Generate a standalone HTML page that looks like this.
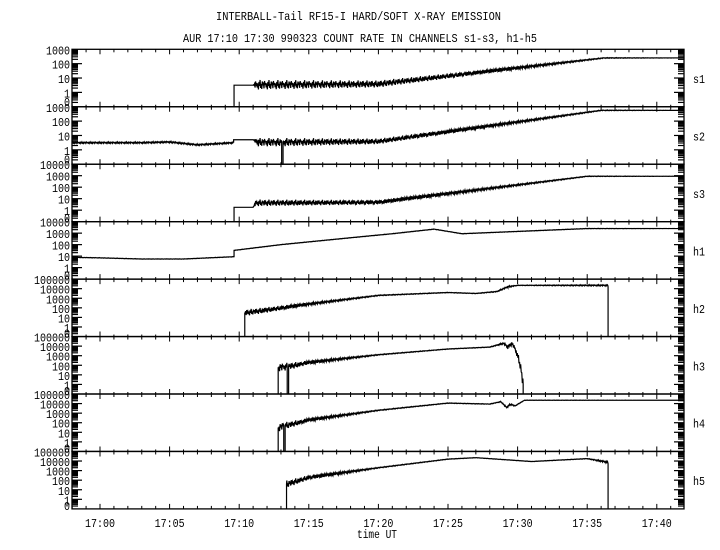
<!DOCTYPE html>
<html><head><meta charset="utf-8"><style>
html,body{margin:0;padding:0;background:#fff;}
svg{display:block;}
text{font-family:"Liberation Mono",monospace;fill:#000;}
</style></head><body>
<svg id="chart" width="720" height="550" viewBox="0 0 720 550" xmlns="http://www.w3.org/2000/svg">
<rect width="720" height="550" fill="#fff"/>
<text x="216" y="20" font-size="12" textLength="285" lengthAdjust="spacingAndGlyphs">INTERBALL-Tail RF15-I HARD/SOFT X-RAY EMISSION</text>
<text x="183" y="42" font-size="12" textLength="354" lengthAdjust="spacingAndGlyphs">AUR 17:10 17:30 990323  COUNT RATE IN CHANNELS s1-s3, h1-h5</text>
<text x="357" y="538" font-size="12" textLength="40" lengthAdjust="spacingAndGlyphs">time UT</text>
<g id="plot"></g>
</svg>
<script>
// time in minutes after 17:00
const xTickLabels=["17:00","17:05","17:10","17:15","17:20","17:25","17:30","17:35","17:40"];
const xTickTimes=[0,5,10,15,20,25,30,35,40];
const panelNames=["s1","s2","s3","h1","h2","h3","h4","h5"];
const panelTop=[3,3,4,4,5,5,5,5];
const s1T=[-2.1,9.63,9.63,11,11.2,20,36.2,42.1];
const s1V=[-1.3,-1.3,0.5,0.5,0.55,0.6,2.4,2.4];
const s1N=[0,0,0,0,0.35,0.25,0.03,0];
const s2T=[-2.1,3,5,7,9.6,9.6,11,11.3,13.05,13.05,13.15,13.15,20,36,42.1];
const s2V=[0.5,0.5,0.55,0.35,0.5,0.7,0.7,0.55,0.55,-1.3,-1.3,0.55,0.6,2.75,2.75];
const s2N=[0.06,0.06,0.06,0.06,0.06,0,0,0.3,0.3,0,0,0.3,0.2,0.03,0];
const s3T=[-2.1,9.63,9.63,11,11.2,20,35,42.1];
const s3V=[-1.3,-1.3,0.25,0.25,0.65,0.7,2.95,2.95];
const s3N=[0,0,0,0,0.3,0.2,0.03,0];
const h1T=[-2.1,0,3,6,9.63,9.63,13,18,21,24,26,28,30,35,42.1];
const h1V=[0.9,0.85,0.75,0.75,0.95,1.5,2.0,2.6,2.95,3.35,2.95,3.05,3.15,3.4,3.4];
const h1N=[0.02,0.02,0.02,0.02,0.02,0.02,0.02,0.02,0.02,0.02,0.02,0.02,0.02,0.02,0];
const h2T=[-2.1,10.4,10.4,12,15,20,25,27,28.5,29.3,30,36.4,36.5,36.5,42.1];
const h2V=[-1.3,-1.3,1.5,1.8,2.4,3.3,3.6,3.5,3.7,4.2,4.35,4.35,4.3,-1.3,-1.3];
const h2N=[0,0,0.35,0.3,0.15,0.05,0.03,0.03,0.05,0.1,0.03,0.08,0.08,0,0];
const h3T=[-2.1,12.8,12.8,13.45,13.45,13.55,13.55,15,20,25,28,29,29.3,29.6,29.9,30.2,30.4,30.4,42.1];
const h3V=[-1.3,-1.3,1.8,1.9,-1.3,-1.3,1.9,2.3,3.1,3.7,3.9,4.3,3.9,4.3,3.5,2.0,0,-1.3,-1.3];
const h3N=[0,0,0.5,0.4,0,0,0.4,0.2,0.05,0.03,0.03,0.1,0.2,0.2,0.3,0.5,0.6,0,0];
const h4T=[-2.1,12.8,12.8,13.2,13.2,13.3,13.3,15,20,25,28,28.8,29.2,29.5,29.8,30.5,42.1];
const h4V=[-1.3,-1.3,1.5,1.7,-1.3,-1.3,1.7,2.3,3.3,4.05,3.95,4.2,3.6,3.95,3.75,4.35,4.35];
const h4N=[0,0,0.5,0.4,0,0,0.4,0.2,0.05,0.03,0.03,0.05,0.1,0.1,0.05,0.02,0];
const h5T=[-2.1,13.4,13.4,15,20,25,27,31,35,36.4,36.5,36.5,42.1];
const h5V=[-1.3,-1.3,1.6,2.3,3.3,4.2,4.35,3.95,4.25,3.9,3.8,-1.3,-1.3];
const h5N=[0,0,0.4,0.25,0.05,0.03,0.02,0.02,0.03,0.12,0.12,0,0];
const seriesT=[s1T,s2T,s3T,h1T,h2T,h3T,h4T,h5T];
const seriesV=[s1V,s2V,s3V,h1V,h2V,h3V,h4V,h5V];
const seriesN=[s1N,s2N,s3N,h1N,h2N,h3N,h4N,h5N];

const NS="http://www.w3.org/2000/svg";
const g=document.getElementById('plot');
const L=72,R=684,T0=49.3,PH=57.45,YMIN=-1;
function xScale(t){return 100+t*13.92;}
function yScale(p,v){const top=T0+p*PH;return top+(panelTop[p]-v)/(panelTop[p]-YMIN)*PH;}
function mk(tag,attrs,parent){const e=document.createElementNS(NS,tag);for(const k in attrs)e.setAttribute(k,attrs[k]);(parent||g).appendChild(e);return e;}
function interp(T,A,t){
  if(t<=T[0])return A[0];
  for(let i=0;i<T.length-1;i++){
    if(t>=T[i]&&t<T[i+1]){const f=T[i+1]===T[i]?0:(t-T[i])/(T[i+1]-T[i]);return A[i]+f*(A[i+1]-A[i]);}
  }
  return A[A.length-1];
}
const jitter=[0.2,-1,0.5,-0.3,0.9,-0.7,0.1,-0.9,0.6,-0.2,0.4,-0.8,0.7,-0.1,0.3,-0.6];
const defs=mk('defs',{});

for(let p=0;p<8;p++){
  const top=T0+p*PH,bot=top+PH;
  const cp=mk('clipPath',{id:'clip'+p},defs);
  mk('rect',{x:L,y:top,width:R-L,height:PH},cp);
  const fr=mk('rect',{x:L,y:top,width:R-L,height:PH,fill:'none',stroke:'#000','stroke-width':1.3});
  
  
  for(let m=-2;m<=41;m++){
    const x=xScale(m);if(x<L||x>R)continue;
    const major=m%5===0;
    const tk=mk('line',{x1:x,x2:x,y1:top-(major&&p>0?5:(p>0?2:0)),y2:top+(major?5:3),stroke:'#000','stroke-width':1});
    
    
  }
  const tp=panelTop[p];
  for(let d=YMIN;d<tp;d++){
    for(let k=1;k<=9;k++){
      const v=d+Math.log10(k);const y=yScale(p,v);
      const len=k===1?10:6;
      if(k===1&&d===YMIN)continue;
      const a=mk('line',{x1:L,x2:L+len,y1:y,y2:y,stroke:'#000','stroke-width':1.2});
      
      
      const b=mk('line',{x1:R,x2:R-len,y1:y,y2:y,stroke:'#000','stroke-width':1.2});
      
      
    }
  }
  for(let d=0;d<=tp;d++){
    const s=String(Math.pow(10,d));
    const y=yScale(p,d);
    const t=mk('text',{x:70,y:y+5,'font-size':12,'text-anchor':'end',textLength:6*s.length,lengthAdjust:'spacingAndGlyphs'});
    t.textContent=s;
    
    
  }
  const z=mk('text',{x:70,y:yScale(p,-0.6)+5,'font-size':12,'text-anchor':'end',textLength:6,lengthAdjust:'spacingAndGlyphs'});
  z.textContent='0';
  
  
  const pl=mk('text',{x:693,y:top+PH/2+5,'font-size':12,textLength:12,lengthAdjust:'spacingAndGlyphs'});
  pl.textContent=panelNames[p];
  
  
  const T=seriesT[p],V=seriesV[p],N=seriesN[p];
  const samples=[];let i=0;
  for(let t=T[0];t<=T[T.length-1];t+=0.04){samples.push([t,interp(T,V,t)+interp(T,N,t)*jitter[i%jitter.length],-1]);i++;}
  for(let k=0;k<T.length;k++)samples.push([T[k],V[k],k]);
  samples.sort((a,b)=>a[0]-b[0]||(a[2]-b[2]));
  const str=samples.map(s=>xScale(s[0]).toFixed(2)+','+yScale(p,s[1]).toFixed(2)).join(' ');
  const pl2=mk('polyline',{points:str,fill:'none',stroke:'#000','stroke-width':1.2,'clip-path':'url(#clip'+p+')'});
  
  
}
const bot=T0+8*PH;
for(let m=-2;m<=41;m++){
  const x=xScale(m);if(x<L||x>R)continue;
  const major=m%5===0;
  const tk=mk('line',{x1:x,x2:x,y1:bot,y2:bot-(major?5:3),stroke:'#000','stroke-width':1});
  
  
}
for(let k=0;k<xTickLabels.length;k++){
  const t=mk('text',{x:xScale(xTickTimes[k]),y:527,'font-size':12,'text-anchor':'middle',textLength:30,lengthAdjust:'spacingAndGlyphs'});
  t.textContent=xTickLabels[k];
  
  
}
</script>
</body></html>
